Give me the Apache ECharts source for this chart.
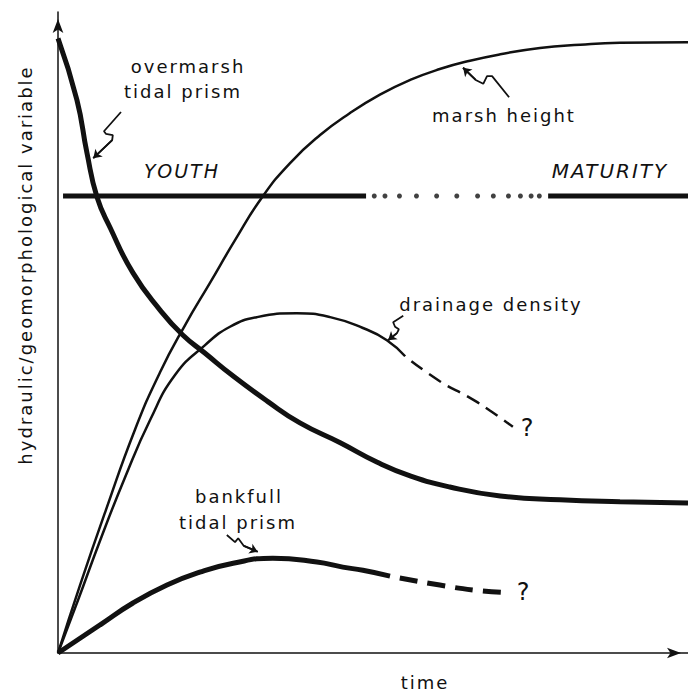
<!DOCTYPE html>
<html>
<head>
    <meta charset="utf-8">
    <title>marsh evolution</title>
    <script src="https://cdn.jsdelivr.net/npm/echarts@6/dist/echarts.min.js"></script>
    <style>
        body { margin: 0; background: #fff; }
        #chart1 { width: 688px; height: 691px; }
        /* hand-lettered look: wider spacing */
        #chart1 text { letter-spacing: 2px; }
    </style>
</head>
<body>
<div id="chart1"></div>
<script type="text/javascript">
    // curves, x = time (0-100), y = variable (0-100)
    var overmarshPrism = [[0, 95.9], [3.0, 86.3], [4.6, 78.0], [6.2, 71.1], [8.3, 66.3], [11.9, 59.3], [16.2, 53.5],
        [19.8, 49.6], [23.3, 46.8], [27.8, 43.2], [33.2, 39.3], [38.4, 35.9], [44.8, 32.8], [50.6, 29.8],
        [56.0, 27.6], [62.2, 25.9], [70.2, 24.5], [79.7, 23.9], [89.2, 23.6], [100, 23.4]];
    var marshHeight = [[0, 0], [3.5, 10.6], [7.6, 22.3], [12.2, 34.8], [16.2, 43.8], [20.2, 51.2], [24.1, 57.7],
        [28.1, 64.4], [32.4, 71.1], [36.8, 76.4], [41.6, 80.8], [46.3, 84.2], [51.1, 87.1], [55.9, 89.4],
        [60.6, 91.1], [65.4, 92.4], [70.2, 93.4], [76.5, 94.4], [82.9, 94.9], [89.2, 95.2], [100, 95.3]];
    var drainageDensity = [[0, 0], [3.2, 8.3], [6.7, 17.6], [10.6, 27.3], [14.6, 36.3], [18.6, 43.4], [23.3, 48.0],
        [27.3, 50.9], [31.6, 52.4], [37.9, 53.0], [43.2, 52.4], [48.4, 50.7], [52.2, 48.8], [55.1, 46.3]];
    var drainageGuess = [[55.1, 46.3], [60.6, 42.4], [65.4, 39.8], [68.6, 37.8], [72.2, 35.3]];
    var bankfullPrism = [[0, 0], [6.7, 4.4], [11.9, 7.8], [17.3, 10.6], [22.5, 12.6], [27.8, 14.0], [34.1, 14.8],
        [41.1, 14.2], [45.2, 13.4], [48.4, 12.9], [52.7, 12.0]];
    var bankfullGuess = [[52.7, 12.0], [60.6, 10.6], [66.2, 9.8], [71.4, 9.4]];

    // youth / maturity bar
    var stageLevel = 71.3;
    var youthSpan = [0.8, 48.9];
    var maturitySpan = [77.8, 100];
    var transitionDots = [50.2, 51.9, 54.2, 56.9, 60.1, 63.3, 66.6, 69.1, 71.5, 73.4, 75.1, 76.4];

    // little squiggly pointers from the labels
    var pointerOvermarsh = [[10.0, 84.4], [7.3, 81.4], [7.6, 81.0], [8.7, 80.8], [8.6, 80.0], [5.6, 77.2]];
    var pointerMarsh = [[71.6, 86.7], [68.9, 90.0], [68.1, 90.0], [67.5, 88.8], [66.3, 89.4], [64.3, 91.3]];
    var pointerDrainage = [[54.8, 52.6], [53.2, 51.6], [53.5, 50.9], [54.1, 50.5], [53.8, 49.9], [52.4, 48.8]];
    var pointerBankfull = [[26.8, 18.4], [28.1, 17.3], [28.6, 17.9], [29.5, 16.7], [31.7, 15.8]];

    var ink = '#111';
    var font = 'DejaVu Sans';

    function curve(name, data, width, dash, dashOffset) {
        return {
            name: name, type: 'line', data: data, smooth: 0.5,
            symbol: 'none', silent: true,
            lineStyle: {color: ink, width: width, type: dash || 'solid', dashOffset: dashOffset || 0}
        };
    }

    function pointer(data) {
        return [{
            type: 'line', data: data, symbol: 'none', silent: true,
            lineStyle: {color: ink, width: 1.8}
        }, {
            type: 'lines', coordinateSystem: 'cartesian2d', silent: true,
            symbol: ['none', 'arrow'], symbolSize: 8,
            lineStyle: {color: ink, width: 1.8, opacity: 1},
            data: [{coords: data.slice(-2)}]
        }];
    }

    function label(text, x, y, size, italic) {
        return {
            type: 'text', x: x, y: y, silent: true,
            style: {
                text: text, fill: ink, font: (italic ? 'italic ' : '') + size + 'px "' + font + '"',
                textAlign: 'center', textVerticalAlign: 'middle'
            }
        };
    }

    var myChart1 = echarts.init(document.getElementById('chart1'), null, {renderer: 'svg'});

    var series = [
        curve('overmarsh tidal prism', overmarshPrism, 5),
        curve('marsh height', marshHeight, 2.5),
        curve('drainage density', drainageDensity, 2.5),
        curve('drainage density ?', drainageGuess, 2.5, [14, 8], 14),
        curve('bankfull tidal prism', bankfullPrism, 5),
        curve('bankfull tidal prism ?', bankfullGuess, 5, [18, 10], 18),
        {
            name: 'youth', type: 'line', symbol: 'none', silent: true,
            data: [[youthSpan[0], stageLevel], [youthSpan[1], stageLevel]],
            lineStyle: {color: ink, width: 5}
        },
        {
            name: 'maturity', type: 'line', symbol: 'none', silent: true,
            data: [[maturitySpan[0], stageLevel], [maturitySpan[1], stageLevel]],
            lineStyle: {color: ink, width: 5}
        },
        {
            name: 'transition', type: 'scatter', symbolSize: 5, silent: true,
            itemStyle: {color: ink},
            data: transitionDots.map(function (x) { return [x, stageLevel]; })
        }
    ];
    series = series.concat(pointer(pointerOvermarsh), pointer(pointerMarsh),
        pointer(pointerDrainage), pointer(pointerBankfull));

    myChart1.setOption({
        backgroundColor: '#fff',
        animation: false,
        grid: {left: 58, right: 0, top: 12, bottom: 38},
        xAxis: {
            type: 'value', min: 0, max: 100,
            axisLine: {lineStyle: {color: ink, width: 1.5}, symbol: ['none', 'arrow'], symbolSize: [8, 14], symbolOffset: [0, -7]},
            axisTick: {show: false}, axisLabel: {show: false}, splitLine: {show: false}
        },
        yAxis: {
            type: 'value', min: 0, max: 100,
            axisLine: {lineStyle: {color: ink, width: 1.5}, symbol: ['none', 'arrow'], symbolSize: [8, 14], symbolOffset: [0, -7]},
            axisTick: {show: false}, axisLabel: {show: false}, splitLine: {show: false}
        },
        series: series,
        graphic: [
            label('overmarsh', 188, 66, 18),
            label('tidal prism', 183, 91, 18),
            label('marsh height', 504, 115, 18),
            label('YOUTH', 182, 171, 19, true),
            label('MATURITY', 610, 171, 20, true),
            label('drainage density', 491, 304, 18),
            label('bankfull', 239, 496, 18),
            label('tidal prism', 238, 522, 18),
            label('?', 528, 428, 24),
            label('?', 524, 592, 24),
            label('time', 425, 682, 18),
            {
                type: 'text', x: 25, y: 265, rotation: Math.PI / 2, silent: true,
                style: {
                    text: 'hydraulic/geomorphological variable', fill: ink, font: '18px "' + font + '"',
                    textAlign: 'center', textVerticalAlign: 'middle'
                }
            }
        ]
    });
</script>
</body>
</html>
